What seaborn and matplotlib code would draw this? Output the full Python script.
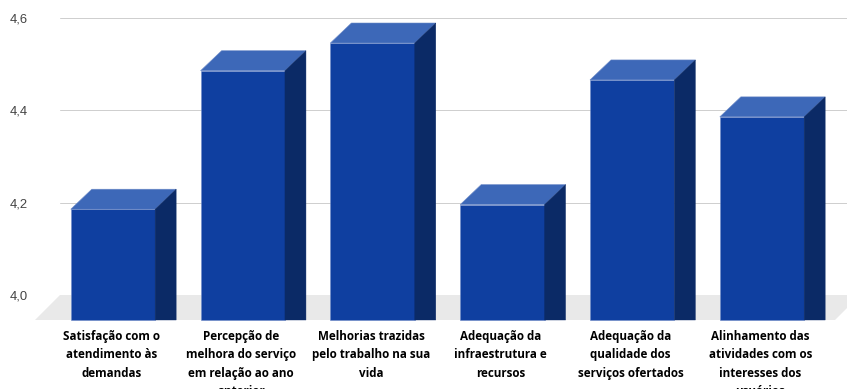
import matplotlib
matplotlib.use("Agg")
import matplotlib.pyplot as plt
import seaborn as sns
import pandas as pd
from matplotlib.patches import Polygon
from matplotlib.transforms import ScaledTranslation

categories = [
    "Satisfação com o\natendimento às\ndemandas",
    "Percepção de\nmelhora do serviço\nem relação ao ano\nanterior",
    "Melhorias trazidas\npelo trabalho na sua\nvida",
    "Adequação da\ninfraestrutura e\nrecursos",
    "Adequação da\nqualidade dos\nserviços ofertados",
    "Alinhamento das\natividades com os\ninteresses dos\nusuários",
]
values = [4.24, 4.54, 4.60, 4.25, 4.52, 4.44]
y_ticks = [4.0, 4.2, 4.4, 4.6]
y_tick_labels = ["4,0", "4,2", "4,4", "4,6"]

W, H = 847, 389
FRONT, TOP, SIDE, EDGE = "#0f3fa0", "#3d68b8", "#0b2a66", "#6f8cc8"

sns.set_theme(style="white")
fig = plt.figure(figsize=(W / 100, H / 100), dpi=100)
ax = fig.add_axes([60 / W, 1 - 295 / H, (W - 60) / W, (295 - 18) / H])

df = pd.DataFrame({"cat": categories, "val": values})
sns.barplot(data=df, x="cat", y="val", color=FRONT, saturation=1, width=0.65, ax=ax, zorder=3)

ax.set_xlim(-0.408, 5.655)
ax.set_ylim(4.0, 4.6)
ax.set_xlabel("")
ax.set_ylabel("")
for s in ax.spines.values():
    s.set_visible(False)
ax.patch.set_visible(False)
ax.set_yticks(y_ticks, y_tick_labels, fontsize=9.4, color="#444444", family="Liberation Sans")
ax.tick_params(axis="y", length=0, pad=23)
ax.yaxis.grid(True, color="#cfcfcf", lw=0.72)
ax.set_axisbelow(True)
ax.set_xticks(range(len(categories)), categories, fontsize=8.4, fontweight="bold",
              color="black", family="Open Sans", linespacing=1.54)
ax.tick_params(axis="x", length=0, pad=25)
for lab in ax.get_xticklabels():
    lab.set_transform(lab.get_transform() + ScaledTranslation(-1.5 / fig.dpi, 0, fig.dpi_scale_trans))

# Pixel-sized offsets for the pseudo-3D look
px = 1 / fig.dpi
front_off = ax.transData + ScaledTranslation(0, -25 * px, fig.dpi_scale_trans)
dx = 21 * (ax.get_xlim()[1] - ax.get_xlim()[0]) / ax.bbox.width
dy = 20 * (ax.get_ylim()[1] - ax.get_ylim()[0]) / ax.bbox.height

# Floor
floor = Polygon([(0, 0), (800 / 787, 0), (775 / 787, -25 / 277), (-25 / 787, -25 / 277)],
                closed=True, transform=ax.transAxes, facecolor="#e9e9e9", edgecolor="none",
                clip_on=False, zorder=1)
ax.add_patch(floor)

for bar, v in zip(list(ax.patches)[:len(values)], values):
    x0, w = bar.get_x(), bar.get_width()
    bar.set_y(4.0)
    bar.set_height(v - 4.0)
    bar.set_transform(front_off)
    bar.set_clip_on(False)
    bar.set_edgecolor(EDGE)
    bar.set_linewidth(0.4)
    top = Polygon([(x0, v), (x0 + w, v), (x0 + w + dx, v + dy), (x0 + dx, v + dy)],
                  closed=True, transform=front_off, facecolor=TOP, edgecolor=EDGE, lw=0.4,
                  clip_on=False, zorder=3)
    side = Polygon([(x0 + w, 4.0), (x0 + w + dx, 4.0), (x0 + w + dx, v + dy), (x0 + w, v)],
                   closed=True, transform=front_off, facecolor=SIDE, edgecolor=SIDE, lw=0.3,
                   clip_on=False, zorder=3)
    ax.add_patch(top)
    ax.add_patch(side)

fig.savefig("out.png", dpi=100)
